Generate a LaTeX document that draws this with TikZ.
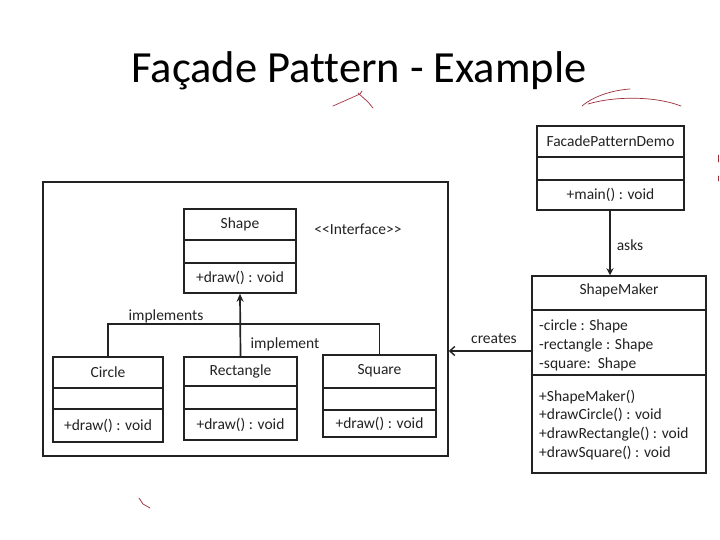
\documentclass[tikz,border=0pt]{standalone}
\usepackage{fontspec}
\setmainfont[Ligatures=CommonOff]{Carlito}
\usetikzlibrary{arrows.meta}
\definecolor{ink}{HTML}{222222}
\definecolor{pen}{HTML}{9E2F3C}
\begin{document}
\begin{tikzpicture}[x=1pt,y=-1pt,
  classbox/.style={draw=ink,line width=1.5pt,rectangle,inner sep=0pt},
  divider/.style={draw=ink,line width=1.5pt},
  umltext/.style={text=ink,font=\fontsize{15.5}{18}\selectfont,inner sep=0pt},
  conn/.style={draw=ink,line width=1.7pt},
  scribble/.style={draw=pen,line width=0.7pt,line cap=round}]
\useasboundingbox (0,0) rectangle (720,540);
\fill[white] (0,0) rectangle (720,540);

% title
\node[font=\fontsize{44.5}{50}\selectfont,text=black,inner sep=0pt,anchor=base] (title) at (359,83) {Façade Pattern - Example};

% outer frame
\node[classbox,minimum width=405pt,minimum height=274pt] (frame) at (245.5,319) {};

% Shape
\node[classbox,minimum width=112pt,minimum height=84pt] (shape) at (240,251) {};
\draw[divider] (shape.west |- 0,240) -- (shape.east |- 0,240);
\draw[divider] (shape.west |- 0,263) -- (shape.east |- 0,263);
\node[umltext] (shapet) at (240,224) {Shape};
\node[umltext] (shapem) at (240,278) {+draw() : void};
\node[umltext] (iface) at (358,229) {<{}<Interface>{}>};

% Circle
\node[classbox,minimum width=110pt,minimum height=85pt] (circle) at (108,399.5) {};
\draw[divider] (circle.west |- 0,388) -- (circle.east |- 0,388);
\draw[divider] (circle.west |- 0,409) -- (circle.east |- 0,409);
\node[umltext] (circlet) at (108,372) {Circle};
\node[umltext] (circlem) at (108,426) {+draw() : void};

% Rectangle
\node[classbox,minimum width=113pt,minimum height=83pt] (rect) at (240.5,398.5) {};
\draw[divider] (rect.west |- 0,386) -- (rect.east |- 0,386);
\draw[divider] (rect.west |- 0,409) -- (rect.east |- 0,409);
\node[umltext] (rectt) at (240.5,371) {Rectangle};
\node[umltext] (rectm) at (240.5,425) {+draw() : void};

% Square
\node[classbox,minimum width=113pt,minimum height=82pt] (square) at (379.5,396) {};
\draw[divider] (square.west |- 0,388) -- (square.east |- 0,388);
\draw[divider] (square.west |- 0,410) -- (square.east |- 0,410);
\node[umltext] (squaret) at (379.5,371) {Square};
\node[umltext] (squarem) at (379.5,424) {+draw() : void};

% implements connectors
\coordinate (bar) at (0,324);
\draw[conn] (circle.north) |- (bar -| square.north) -- (square.north);
\draw[conn,-{Stealth[length=8pt,width=7pt]}] (rect.north) -- (shape.south);
\node[umltext] (impls) at (166,316) {implements};
\node[umltext] (impl) at (285,344) {implement};

% FacadePatternDemo
\node[classbox,minimum width=147pt,minimum height=84pt] (demo) at (610.5,168) {};
\draw[divider] (demo.west |- 0,157) -- (demo.east |- 0,157);
\draw[divider] (demo.west |- 0,180) -- (demo.east |- 0,180);
\node[umltext] (demot) at (610.5,141) {FacadePatternDemo};
\node[umltext] (demom) at (610.5,195) {+main() : void};

% ShapeMaker
\node[classbox,minimum width=174pt,minimum height=197pt] (maker) at (619,374.5) {};
\draw[divider] (maker.west |- 0,310) -- (maker.east |- 0,310);
\draw[divider] (maker.west |- 0,375) -- (maker.east |- 0,375);
\node[umltext] (makert) at (619,290) {ShapeMaker};
\node[umltext,anchor=west] (a1) at (539,326) {-circle : Shape};
\node[umltext,anchor=west] (a2) at (539,345) {-rectangle : Shape};
\node[umltext,anchor=west] (a3) at (539,364) {-square:\ \ Shape};
\node[umltext,anchor=west] (m1) at (539,397) {+ShapeMaker()};
\node[umltext,anchor=west] (m2) at (539,415) {+drawCircle() : void};
\node[umltext,anchor=west] (m3) at (539,434) {+drawRectangle() : void};
\node[umltext,anchor=west] (m4) at (539,453) {+drawSquare() : void};

% asks
\draw[conn,line width=1.4pt,-{Stealth[length=7pt,width=7pt]}] (demo.south -| 610,0) -- (maker.north -| 610,0);
\node[umltext] (asks) at (630,245) {asks};

% creates
\draw[conn,line width=1.4pt,-{Straight Barb[length=5pt,width=9pt]}] (maker.west |- 0,351) -- (frame.east |- 0,351);
\node[umltext] (creates) at (494,339) {creates};

% hand-drawn annotations
\draw[scribble] (333,106) -- (360,94) -- (362,91);
\draw[scribble] (358,93) -- (368,102) -- (373,108);
\draw[scribble] (582,106) .. controls (595,95) and (615,90) .. (630,89);
\draw[scribble] (588,104) .. controls (615,96) and (655,96) .. (681,106);
\draw[scribble] (718,155) -- (718,162);
\draw[scribble] (718,176) -- (718,181);
\draw[scribble] (139,498) -- (143,504) -- (150,508);
\end{tikzpicture}
\end{document}
